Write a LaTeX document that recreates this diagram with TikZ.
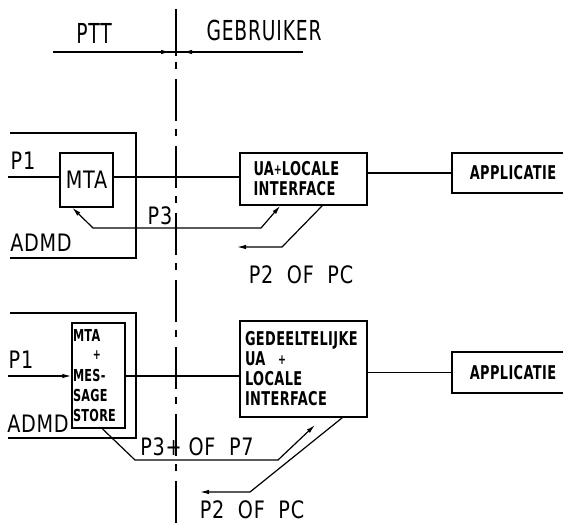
\documentclass[tikz,border=0pt]{standalone}
\usepackage{fontspec}
\setmainfont[FakeStretch=0.8,LetterSpace=3]{DejaVu Sans}
\newfontfamily\headfont[FakeStretch=0.68,LetterSpace=3]{DejaVu Sans}
\newfontfamily\boxfont[FakeStretch=0.68,LetterSpace=2]{DejaVu Sans}
\newcommand{\smallplus}{\raisebox{1.5pt}{\fontsize{14}{14}\selectfont+}}
\usetikzlibrary{calc,arrows.meta}
\begin{document}
\begin{tikzpicture}[x=1pt,y=-1pt,
  box/.style={draw, line width=1.4pt, inner sep=0pt, font=\boxfont\bfseries\fontsize{19}{20}\selectfont},
  lbl/.style={font=\fontsize{24}{26}\selectfont, inner sep=0pt},
  head/.style={font=\headfont\fontsize{27.5}{29}\selectfont, inner sep=0pt},
  conn/.style={line width=1.2pt},
  arr/.style={-{Latex[length=9pt,width=4.5pt]}},
  darr/.style={{Latex[length=9pt,width=4.5pt]}-{Latex[length=9pt,width=4.5pt]}},
 ]
\useasboundingbox (0,0) rectangle (563,523);

% divider
\coordinate (dtop) at (176,9);
\coordinate (dmid) at (176,56);
\coordinate (ddash) at (176,62);
\coordinate (dbot) at (176,523);
\draw[line width=1.3pt] (dtop) -- (dmid);
\draw[line width=1.2pt, dash pattern=on 7pt off 10pt on 42pt off 8pt] (ddash) -- (dbot);

% header
\node[head] (ptt) at (94,33) {PTT};
\node[head] (geb) at (264,30) {GEBRUIKER};
\coordinate (hl) at (53,52);
\coordinate (hr) at (303,52);
\coordinate (al) at (150,52);
\coordinate (alt) at (170,52);
\coordinate (ar) at (203,52);
\coordinate (art) at (183,52);
\draw[conn] (hl) -- (hr);
\draw[conn, arr] (al) -- (alt);
\draw[conn, arr] (ar) -- (art);

% ---------- top section ----------
\node[box, minimum width=53pt, minimum height=54pt, font=\fontsize{24}{26}\selectfont] (mta) at (86.5,180) {MTA};
\node[box, minimum width=127pt, minimum height=52pt, text width=100pt, align=left] (ua) at (303.5,179) {UA\smallplus LOCALE\\INTERFACE};
\node[box, minimum width=122pt, minimum height=40pt] (app1) at (513,173) {APPLICATIE};

\coordinate (b1a) at (10,133);
\coordinate (b1b) at (136,133);
\coordinate (b1c) at (136,258);
\coordinate (b1d) at (10,258);
\draw[conn] (b1a) -- (b1b) -- (b1c) -- (b1d);

\coordinate (p1a) at (8,177);
\draw[conn] (p1a) -- (p1a -| mta.west);
\draw[conn] (p1a -| mta.east) -- (p1a -| ua.west);
\draw[conn] (ua.east |- app1) -- (app1.west);

\draw[conn, darr] ($(mta.south west)+(13,0)$) -- (93,228) -- (261,228) -- ($(ua.south west)+(41,0)$);
\draw[conn, arr] ($(ua.south west)+(83,0)$) -- (282,247) -- (237,247);

\node[lbl] (lp1a) at (23,161) {P1};
\node[lbl] (ladmda) at (41,243) {ADMD};
\node[lbl] (lp3) at (160,216) {P3};
\node[lbl] (lp2a) at (301,275) {P2\ \ OF\ \ PC};

% ---------- bottom section ----------
\node[box, minimum width=53pt, minimum height=105pt, text width=51pt, align=left, font=\boxfont\bfseries\fontsize{16.5}{20}\selectfont] (mms) at (98.5,375.5) {MTA\\\hspace*{20pt}\smallplus\\MES-\\SAGE\\STORE};
\node[box, minimum width=127pt, minimum height=96pt, text width=117pt, align=left] (ged) at (303.5,369) {GEDEELTELIJKE\\UA\ \ \smallplus\\LOCALE\\INTERFACE};
\node[box, minimum width=122pt, minimum height=41pt] (app2) at (513,372.5) {APPLICATIE};

\coordinate (b2a) at (10,313);
\coordinate (b2b) at (136,313);
\coordinate (b2c) at (136,438);
\coordinate (b2d) at (8,438);
\draw[conn] (b2a) -- (b2b) -- (b2c) -- (b2d);

\coordinate (p1b) at (8,376);
\draw[conn, arr] (p1b) -- (p1b -| mms.west);
\draw[conn] (p1b -| mms.east) -- (p1b -| ged.west);
\draw[conn] (ged.east |- app2) -- (app2.west);

\coordinate (p7end) at (315,425);
\draw[conn, arr] ($(mms.south west)+(31,0)$) -- (135,460) -- (278,460) -- (p7end);
\draw[conn, arr] ($(ged.south west)+(103,0)$) -- (250,492) -- (200,492);

\node[lbl] (lp1b) at (21,360) {P1};
\node[lbl] (ladmdb) at (38,424) {ADMD};
\node[lbl] (lp37) at (197,447) {P3+\ OF\ \ P7};
\node[lbl] (lp2b) at (252,510) {P2\ \ OF\ \ PC};
\end{tikzpicture}
\end{document}
